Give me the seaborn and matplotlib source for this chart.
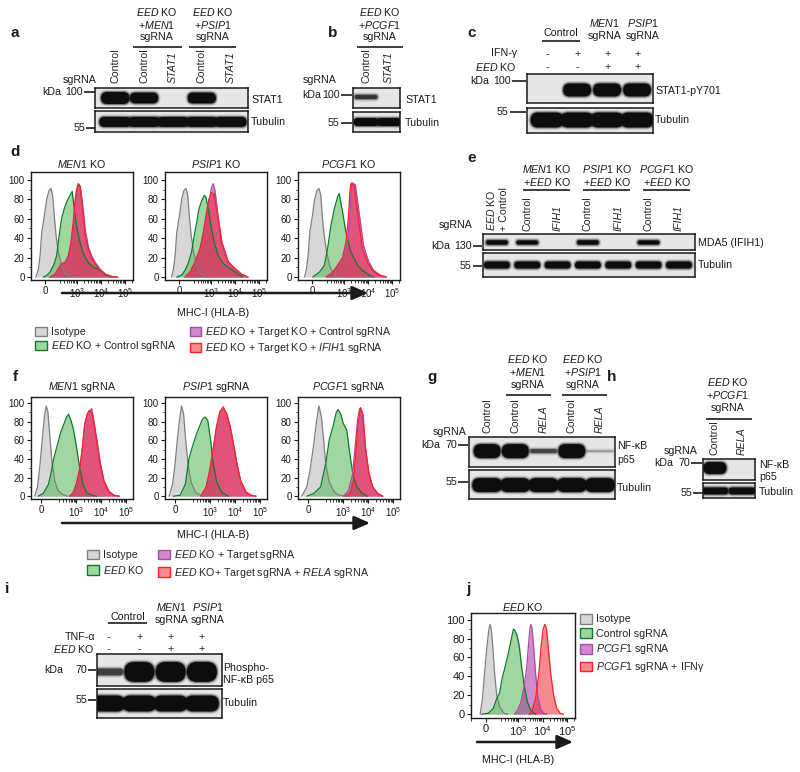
import matplotlib
matplotlib.use("Agg")
import matplotlib.pyplot as plt
import seaborn as sns
from matplotlib.patches import FancyBboxPatch, FancyArrowPatch, Patch
from matplotlib.lines import Line2D
from matplotlib.ticker import MultipleLocator
from matplotlib.colors import to_rgba

sns.set_theme(style="white")
plt.rcParams["font.family"] = ["Liberation Sans", "DejaVu Sans"]
plt.rcParams.update({
    "mathtext.fontset": "custom",
    "mathtext.rm": "Liberation Sans",
    "mathtext.it": "Liberation Sans:italic",
    "mathtext.bf": "Liberation Sans:bold",
    "mathtext.sf": "Liberation Sans",
    "font.size": 7.7,
})

# ------------------------------------------------------------------ data
# western blots: relative band signal per lane
a_lanes = ["Control", "Control", "STAT1", "Control", "STAT1"]
a_stat1 = [1.0, 0.9, 0.0, 0.9, 0.0]
a_tubulin = [1.0, 1.0, 1.0, 1.0, 1.0]

b_lanes = ["Control", "STAT1"]
b_stat1 = [0.4, 0.0]
b_tubulin = [1.0, 1.0]

c_ifng = ["-", "+", "+", "+"]
c_eed = ["-", "-", "+", "+"]
c_pstat1 = [0.0, 1.0, 1.0, 1.0]
c_tubulin = [1.0, 1.0, 1.0, 1.0]

e_lanes = ["$\\mathit{EED}$ KO\n+ Control", "Control", "IFIH1", "Control", "IFIH1", "Control", "IFIH1"]
e_mda5 = [1.0, 0.95, 0.0, 1.0, 0.0, 0.95, 0.0]
e_tubulin = [1.0, 1.0, 1.0, 1.0, 1.0, 1.0, 1.0]

g_lanes = ["Control", "Control", "RELA", "Control", "RELA"]
g_p65 = [1.0, 1.0, 0.3, 1.0, 0.06]
g_tubulin = [1.0, 1.0, 1.0, 1.0, 1.0]

h_lanes = ["Control", "RELA"]
h_p65 = [1.0, 0.0]
h_tubulin = [1.0, 1.0]

i_tnfa = ["-", "+", "+", "+"]
i_eed = ["-", "-", "+", "+"]
i_pp65 = [0.35, 1.0, 1.0, 1.0]
i_tubulin = [1.0, 1.0, 1.0, 1.0]

# flow histograms: (MHC-I fluorescence, % of max)
D_MEN1_ISO = ([-117, -88, -66, -44, -9, 22, 53, 79, 101, 118, 139, 173, 237, 325, 490, 776],
              [0, 8, 22, 46, 63, 80, 89, 91, 84, 63, 43, 26, 12, 4, 0.5, 0])
D_MEN1_GREEN = ([-22, 22, 66, 110, 148, 174, 204, 236, 302, 380, 478, 646, 794, 977, 1350, 1860, 2950, 4790, 7590, 10470, 16600, 26900],
                [0, 1.7, 5, 12, 22, 36, 49, 60, 70, 77, 82, 88, 70, 53, 36, 24, 15, 10, 8, 6, 2, 0])
D_MEN1_MAG = ([70, 135, 185, 250, 340, 470, 600, 740, 870, 1020, 1200, 1400, 1650, 1950, 2250, 3100, 4300, 5800, 9400, 15300, 28000, 50000],
              [0, 2, 8, 13, 14, 20, 33, 52, 73, 88, 95, 93, 80, 64, 48, 30, 21, 15, 8, 3, 0.7, 0])
D_MEN1_RED = ([66, 126, 174, 236, 324, 447, 575, 708, 832, 977, 1150, 1350, 1580, 1860, 2140, 2950, 4070, 5500, 8900, 14500, 26900, 49000],
              [0, 3, 9, 14, 15, 22, 36, 56, 77, 90, 96, 94, 80, 63, 46, 29, 20, 14, 7, 3, 0.7, 0])

D_PSIP1_ISO = ([-100, -75, -52, -30, 5, 35, 65, 93, 112, 130, 155, 195, 260, 360, 520, 800],
               [0, 8, 22, 46, 63, 80, 89, 91, 84, 63, 43, 26, 12, 4, 0.5, 0])
D_PSIP1_GREEN = ([-31, 35, 79, 117, 162, 209, 263, 324, 417, 537, 631, 794, 1020, 1380, 2040, 3240, 6170, 11500, 21400],
                 [0, 2, 7, 14, 26, 43, 56, 70, 78, 84, 82, 70, 53, 36, 22, 14, 9, 4, 0])
D_PSIP1_MAG = ([79, 138, 219, 355, 490, 676, 870, 1070, 1260, 1500, 1900, 2900, 5250, 9770, 18600, 34700],
               [0, 4, 14, 27, 44, 63, 78, 92, 96, 89, 67, 36, 16, 9, 3, 0])
D_PSIP1_RED = ([79, 138, 219, 355, 490, 676, 832, 1070, 1380, 1740, 2750, 5250, 9770, 18600, 34700],
               [0, 5, 15, 29, 46, 67, 80, 87, 85, 70, 36, 15, 9, 3, 0])

D_PCGF1_ISO = ([-100, -75, -52, -30, 5, 35, 65, 93, 112, 130, 155, 195, 260, 360, 520, 800],
               [0, 8, 22, 46, 63, 80, 89, 91, 84, 63, 43, 26, 12, 4, 0.5, 0])
D_PCGF1_GREEN = ([9, 97, 158, 214, 295, 407, 550, 646, 890, 1230, 1950, 3720, 5900, 11200, 17800],
                 [0, 5, 12, 29, 53, 70, 82, 86, 67, 46, 26, 12, 7, 2, 0])
D_PCGF1_MAG = ([208, 390, 616, 1000, 1380, 1770, 1990, 2180, 3010, 3540, 4900, 6600, 10700, 16900, 32300, 60000],
               [0, 5, 12, 20, 34, 60, 86, 97, 95, 82, 56, 32, 16, 7, 2, 0])
D_PCGF1_RED = ([186, 347, 550, 890, 1230, 1580, 1780, 1950, 2690, 3160, 4370, 5900, 9550, 15100, 28800, 53700],
               [0, 5, 12, 20, 36, 63, 87, 96, 94, 80, 53, 29, 15, 7, 2, 0])

F_MEN1_ISO = ([-60, -33, -10, 13, 33, 50, 66, 83, 105, 138, 186, 275, 447],
              [0, 10, 33, 61, 85, 97, 91, 68, 37, 16, 6, 2, 0])
F_MEN1_GREEN = ([-26, 23, 73, 100, 123, 170, 234, 324, 407, 490, 617, 776, 1000, 1380, 1860, 2570, 4170, 6760],
                [0, 3, 13, 27, 40, 54, 68, 78, 85, 88, 81, 71, 54, 30, 13, 4, 1, 0])
F_MEN1_MAG = ([525, 724, 1000, 1380, 1780, 2190, 2750, 3310, 4170, 4900, 6760, 9330, 12900, 20900, 33100, 53700],
              [0, 3, 12, 28, 52, 76, 87, 91, 94, 84, 60, 35, 17, 5, 1, 0])
F_MEN1_RED = ([525, 724, 1000, 1380, 1780, 2190, 2750, 3310, 4170, 4900, 6760, 9330, 12900, 20900, 33100, 53700],
              [0, 3, 13, 30, 54, 78, 88, 92, 90, 81, 57, 33, 16, 4, 1, 0])

F_PSIP1_ISO = ([-56, -23, 0, 23, 43, 63, 83, 102, 129, 170, 257, 417, 676],
               [0, 13, 33, 61, 81, 97, 88, 61, 33, 15, 4, 1, 0])
F_PSIP1_GREEN = ([-16, 50, 100, 138, 186, 257, 355, 490, 617, 794, 1020, 1290, 1780, 2880, 5370],
                 [0, 1, 13, 40, 52, 64, 74, 83, 85, 81, 61, 37, 16, 4, 0])
F_PSIP1_MAG = ([417, 676, 933, 1290, 1780, 2450, 3310, 4570, 6310, 8710, 12000, 16600, 26900, 43600, 69200],
               [0, 9, 25, 48, 73, 90, 94, 89, 75, 55, 34, 17, 5, 1, 0])
F_PSIP1_RED = ([417, 676, 933, 1290, 1780, 2450, 3310, 4570, 6310, 8710, 12000, 16600, 26900, 43600, 69200],
               [0, 10, 27, 50, 75, 91, 96, 88, 74, 54, 33, 16, 4, 1, 0])

F_PCGF1_ISO = ([-60, -10, 23, 57, 83, 105, 132, 162, 200, 275, 447, 724, 1170],
               [0, 10, 30, 57, 81, 97, 85, 61, 33, 15, 4, 1, 0])
F_PCGF1_GREEN = ([-10, 57, 123, 200, 275, 380, 525, 617, 794, 1000, 1380, 1860, 2570, 3550, 5750, 9330],
                 [0, 3, 10, 36, 61, 74, 90, 93, 88, 78, 71, 44, 20, 10, 3, 0])
F_PCGF1_MAG = ([1000, 1620, 2340, 3020, 3720, 4470, 5750, 7410, 10200, 15100, 24500, 38900],
               [0, 6, 23, 54, 81, 94, 91, 57, 27, 10, 2, 0])
F_PCGF1_RED = ([1170, 1860, 2570, 3240, 3890, 4900, 6170, 7940, 11000, 15100, 24500, 38900],
               [0, 3, 16, 50, 78, 95, 88, 50, 23, 10, 3, 0])

J_ISO = ([-77, -47, -21, 9, 39, 56, 73, 95, 112, 135, 178, 263, 380],
         [0, 16, 41, 69, 90, 95, 88, 65, 41, 20, 8, 1, 0])
J_CONTROL = ([-55, 30, 95, 132, 178, 219, 302, 407, 525, 646, 759, 912, 1120, 1380, 1780, 2400, 3310, 5250],
             [0, 1, 6, 16, 23, 37, 51, 65, 79, 90, 88, 83, 72, 51, 30, 13, 4, 0])
J_PCGF1 = ([708, 955, 1320, 1780, 2290, 2630, 3020, 3310, 3720, 4370, 5130, 6310, 8130, 11200, 15100],
           [0, 4, 13, 30, 51, 72, 90, 95, 91, 69, 44, 20, 6, 1, 0])
J_PCGF1_IFNG = ([2820, 3720, 5130, 6920, 8510, 10500, 12300, 14500, 17800, 21900, 28200, 38000, 52500, 70800],
                [0, 4, 16, 41, 69, 90, 95, 90, 65, 41, 20, 6, 1, 0])

XTICKS = [0, 1e3, 1e4, 1e5]
XTICKLABELS = ["0", "$10^3$", "$10^4$", "$10^5$"]
YTICKS = [0, 20, 40, 60, 80, 100]

# ------------------------------------------------------------------ helpers
W, H = 800, 772
fig = plt.figure(figsize=(W / 100, H / 100), dpi=100)
fig.patch.set_facecolor("white")
FS = 7.7
ITALIC = {"STAT1", "IFIH1", "RELA"}


def fx(x):
    return x / W


def fy(y):
    return 1 - y / H


def rect(x0, y0, x1, y1):
    return [x0 / W, 1 - y1 / H, (x1 - x0) / W, (y1 - y0) / H]


def it(s):
    return "$\\mathit{" + s + "}$"


def T(x, y, s, ha="center", va="center", size=FS, **kw):
    return fig.text(fx(x), fy(y), s, ha=ha, va=va, fontsize=size, color="k", **kw)


def L(x0, x1, y, lw=1.2):
    fig.add_artist(Line2D([fx(x0), fx(x1)], [fy(y), fy(y)], transform=fig.transFigure,
                          color="k", lw=lw, solid_capstyle="butt"))


def marker(kda_right, num_right, y, num, t0, t1, kda=True):
    if kda:
        T(kda_right, y, "kDa", ha="right")
    T(num_right, y, num, ha="right")
    L(t0, t1, y)


def arrow(x0, x1, y):
    fig.add_artist(FancyArrowPatch((fx(x0), fy(y)), (fx(x1), fy(y)), transform=fig.transFigure,
                                   arrowstyle="-|>,head_length=0.8,head_width=0.35",
                                   mutation_scale=12, lw=1.8, color="k", shrinkA=0, shrinkB=0))


def blot_strip(box, xlim, signal, band_h, yc=0.5, band_w=0.95):
    x0, y0, x1, y1 = box
    ax = fig.add_axes(rect(*box))
    ax.set_xlim(*xlim)
    ax.set_ylim(0, 1)
    ax.set_facecolor("#e6e6e6")
    ax.set_xticks([])
    ax.set_yticks([])
    for s in ax.spines.values():
        s.set_visible(True)
        s.set_color("k")
        s.set_linewidth(1.1)
    xper = (xlim[1] - xlim[0]) / (x1 - x0)
    yper = 1.0 / (y1 - y0)
    for i, v in enumerate(signal):
        if v <= 0:
            continue
        h = band_h * v
        for grow, a in [(2.2, 0.18), (1.0, 0.4), (0.0, 1.0)]:
            bw = band_w / xper + 2 * grow
            hh = h + 2 * grow
            r = min(hh / 2, bw / 2)
            ax.add_patch(FancyBboxPatch((i - bw * xper / 2, yc - hh * yper / 2), bw * xper, hh * yper,
                                        boxstyle=f"round,pad=0,rounding_size={r * xper}",
                                        mutation_aspect=yper / xper, fc="#0d0d0d", ec="none",
                                        alpha=a * min(1.0, 0.3 + v)))
    return ax


def lane_labels(ax, labels, gap):
    for i, lab in enumerate(labels):
        ax.annotate(lab, xy=(i, 1), xycoords=("data", "axes fraction"),
                    xytext=(0, gap * 0.72), textcoords="offset points", rotation=90,
                    ha="center", va="bottom", ma="left", fontsize=FS,
                    fontstyle="italic" if lab in ITALIC else "normal", annotation_clip=False)


def sign_row(ax, signs, gap):
    for i, s in enumerate(signs):
        ax.annotate(s, xy=(i, 1), xycoords=("data", "axes fraction"),
                    xytext=(0, gap * 0.72), textcoords="offset points",
                    ha="center", va="center", fontsize=FS, annotation_clip=False)


STY = {
    "iso": dict(fc="#b6b6b6", ec="#808080"),
    "green": dict(fc="#52b652", ec="#0a7d2a"),
    "mag": dict(fc="#aa28a0", ec="#a64ca6"),
    "red": dict(fc="#f02838", ec="#ff2020"),
}
ALPHA = 0.55
ORDER = ["iso", "green", "mag", "red"]


def flow(box, curves, xlim, linscale, ylim, labelsize=7):
    ax = fig.add_axes(rect(*box))
    ax.set_xscale("symlog", linthresh=100, linscale=linscale, subs=list(range(2, 10)))
    for key, (xs, ys) in zip(ORDER, curves):
        st = STY[key]
        ax.fill_between(xs, ys, 0, facecolor=st["fc"], alpha=ALPHA, linewidth=0)
        sns.lineplot(x=xs, y=ys, ax=ax, color=st["ec"], linewidth=0.9, sort=False,
                     estimator=None, legend=False)
    ax.set_xlim(*xlim)
    ax.set_ylim(*ylim)
    ax.set_xticks(XTICKS, labels=XTICKLABELS)
    ax.set_yticks(YTICKS)
    ax.yaxis.set_minor_locator(MultipleLocator(10))
    ax.tick_params(which="major", direction="out", length=3, width=0.8, labelsize=labelsize,
                   pad=1.5, bottom=True, left=True, top=False, right=False, colors="k")
    ax.tick_params(which="minor", direction="out", length=1.8, width=0.6, bottom=True, left=True,
                   top=False, right=False, colors="k")
    for s in ax.spines.values():
        s.set_visible(True)
        s.set_color("k")
        s.set_linewidth(1.0)
    ax.set_xlabel("")
    ax.set_ylabel("")
    ax.grid(False)
    return ax


def handles():
    return [Patch(facecolor=to_rgba(STY[k]["fc"], ALPHA), edgecolor=STY[k]["ec"], lw=1.0) for k in ORDER]


# ------------------------------------------------------------------ panel letters
for lab, (x, y) in {"a": (15, 33), "b": (333, 33), "c": (472, 33), "d": (15, 152),
                    "e": (472, 158), "f": (15, 377), "g": (432, 377), "h": (612, 377),
                    "i": (7, 589), "j": (468, 589)}.items():
    T(x, y, lab, size=11, weight="bold")

# ------------------------------------------------------------------ panel a
a_xlim = (-0.7, 4.6)
ax = blot_strip((95, 88, 248, 108), a_xlim, a_stat1, band_h=12, yc=0.5, band_w=0.98)
blot_strip((95, 111, 248, 132), a_xlim, a_tubulin, band_h=10, yc=0.48, band_w=1.1)
lane_labels(ax, a_lanes, 5)
for cx, gene, (l0, l1) in [(157, "MEN1", (133, 182)), (213, "PSIP1", (189, 236))]:
    T(cx, 12, it("EED") + " KO")
    T(cx, 25, "+" + it(gene))
    T(cx, 37, "sgRNA")
    L(l0, l1, 47)
T(80, 80, "sgRNA")
marker(61, 83, 92, "100", 84, 95)
marker(0, 85, 128, "55", 86, 95, kda=False)
T(251, 100, "STAT1", ha="left"); T(251, 122, "Tubulin", ha="left")

# ------------------------------------------------------------------ panel b
b_xlim = (-0.57, 1.48)
ax = blot_strip((353, 88, 400, 108), b_xlim, b_stat1, band_h=11, yc=0.55, band_w=1.0)
blot_strip((353, 112, 400, 132), b_xlim, b_tubulin, band_h=8, yc=0.5, band_w=1.08)
lane_labels(ax, b_lanes, 5)
T(380, 12, it("EED") + " KO"); T(380, 25, "+" + it("PCGF1")); T(380, 37, "sgRNA"); L(357, 403, 47)
T(320, 80, "sgRNA")
marker(321, 340, 95, "100", 341, 352)
marker(0, 339, 123, "55", 341, 352, kda=False)
T(405, 100, "STAT1", ha="left"); T(405, 123, "Tubulin", ha="left")

# ------------------------------------------------------------------ panel c
c_xlim = (-0.67, 3.53)
ax = blot_strip((527, 74, 653, 103), c_xlim, c_pstat1, band_h=13, yc=0.45, band_w=0.93)
blot_strip((527, 108, 653, 133), c_xlim, c_tubulin, band_h=15, yc=0.52, band_w=1.1)
sign_row(ax, c_ifng, 20)
sign_row(ax, c_eed, 7)
T(561, 33, "Control"); L(542, 580, 41)
T(605, 23, it("MEN1")); T(605, 36, "sgRNA")
T(643, 23, it("PSIP1")); T(643, 36, "sgRNA")
T(517, 53, "IFN-γ", ha="right"); T(517, 67, it("EED") + " KO", ha="right")
marker(489, 511, 81, "100", 512, 526)
marker(0, 508, 112, "55", 510, 526, kda=False)
T(655, 91, "STAT1-pY701", ha="left"); T(655, 120, "Tubulin", ha="left")

# ------------------------------------------------------------------ panel d
D_XLIM = (-186, 2.1e5)
D_YLIM = (-3, 108)
d_boxes = [(31, 172, 133, 280), (165, 172, 267, 280), (298, 172, 400, 280)]
d_sets = [[D_MEN1_ISO, D_MEN1_GREEN, D_MEN1_MAG, D_MEN1_RED],
          [D_PSIP1_ISO, D_PSIP1_GREEN, D_PSIP1_MAG, D_PSIP1_RED],
          [D_PCGF1_ISO, D_PCGF1_GREEN, D_PCGF1_MAG, D_PCGF1_RED]]
for box, curves, gene in zip(d_boxes, d_sets, ["MEN1", "PSIP1", "PCGF1"]):
    flow(box, curves, D_XLIM, 0.279, D_YLIM)
    T((box[0] + box[2]) / 2, 164, it(gene) + " KO")
arrow(62, 368, 293)
T(213, 313, "MHC-I (HLA-B)")
fig.legend(handles(), ["Isotype", it("EED") + " KO + Control sgRNA",
                       it("EED") + " KO + Target KO + Control sgRNA",
                       it("EED") + " KO + Target KO + " + it("IFIH1") + " sgRNA"],
           ncol=2, loc="upper left", bbox_to_anchor=(fx(35), fy(325)), frameon=False, fontsize=FS,
           handlelength=1.1, handleheight=1.0, handletextpad=0.35, labelspacing=0.2,
           columnspacing=1.3, borderpad=0, borderaxespad=0)

# ------------------------------------------------------------------ panel e
e_xlim = (-0.46, 6.53)
ax = blot_strip((483, 234, 695, 250), e_xlim, e_mda5, band_h=4.5, yc=0.47, band_w=0.72)
blot_strip((483, 253, 695, 277), e_xlim, e_tubulin, band_h=7, yc=0.5, band_w=0.85)
lane_labels(ax, e_lanes, 3)
for cx, gene, (l0, l1) in [(547, "MEN1", (523, 570)), (607, "PSIP1", (583, 630)), (667, "PCGF1", (643, 690))]:
    T(cx, 169, it(gene) + " KO")
    T(cx, 182, "+" + it("EED") + " KO")
    L(l0, l1, 190)
T(456, 225, "sgRNA")
marker(450, 472, 246, "130", 473, 482)
marker(0, 471, 266, "55", 473, 482, kda=False)
T(698, 243, "MDA5 (IFIH1)", ha="left"); T(698, 265, "Tubulin", ha="left")

# ------------------------------------------------------------------ panel f
F_XLIM = (-95, 1.9e5)
F_YLIM = (-3, 106.5)
f_boxes = [(31, 397, 133, 499), (165, 397, 267, 499), (298, 397, 400, 499)]
f_sets = [[F_MEN1_ISO, F_MEN1_GREEN, F_MEN1_MAG, F_MEN1_RED],
          [F_PSIP1_ISO, F_PSIP1_GREEN, F_PSIP1_MAG, F_PSIP1_RED],
          [F_PCGF1_ISO, F_PCGF1_GREEN, F_PCGF1_MAG, F_PCGF1_RED]]
for box, curves, gene in zip(f_boxes, f_sets, ["MEN1", "PSIP1", "PCGF1"]):
    flow(box, curves, F_XLIM, 0.378, F_YLIM)
    T((box[0] + box[2]) / 2, 387, it(gene) + " sgRNA")
arrow(62, 370, 523)
T(213, 535, "MHC-I (HLA-B)")
fig.legend(handles(), ["Isotype", it("EED") + " KO",
                       it("EED") + " KO + Target sgRNA",
                       it("EED") + " KO+ Target sgRNA + " + it("RELA") + " sgRNA"],
           ncol=2, loc="upper left", bbox_to_anchor=(fx(87), fy(548)), frameon=False, fontsize=FS,
           handlelength=1.1, handleheight=1.0, handletextpad=0.35, labelspacing=0.35,
           columnspacing=1.3, borderpad=0, borderaxespad=0)

# ------------------------------------------------------------------ panel g
g_xlim = (-0.64, 4.53)
ax = blot_strip((469, 437, 615, 467), g_xlim, g_p65, band_h=14, yc=0.53, band_w=0.95)
blot_strip((469, 470, 615, 499), g_xlim, g_tubulin, band_h=14, yc=0.48, band_w=1.05)
lane_labels(ax, g_lanes, 4)
for cx, gene, (l0, l1) in [(528, "MEN1", (506, 551)), (583, "PSIP1", (562, 607))]:
    T(cx, 359, it("EED") + " KO")
    T(cx, 372, "+" + it(gene))
    T(cx, 385, "sgRNA")
    L(l0, l1, 395)
T(450, 432, "sgRNA")
marker(440, 457, 445, "70", 458, 468)
marker(0, 457, 482, "55", 458, 468, kda=False)
T(617, 446, "NF-κB", ha="left"); T(617, 460, "p65", ha="left"); T(617, 488, "Tubulin", ha="left")

# ------------------------------------------------------------------ panel h
h_xlim = (-0.44, 1.48)
ax = blot_strip((703, 459, 755, 480), h_xlim, h_p65, band_h=12, yc=0.57, band_w=0.85)
blot_strip((703, 483, 755, 498), h_xlim, h_tubulin, band_h=7, yc=0.47, band_w=0.98)
lane_labels(ax, h_lanes, 4)
T(728, 382, it("EED") + " KO"); T(728, 395, "+" + it("PCGF1")); T(728, 408, "sgRNA"); L(706, 752, 419)
T(681, 451, "sgRNA")
marker(673, 690, 463, "70", 691, 702)
marker(0, 692, 493, "55", 693, 703, kda=False)
T(759, 465, "NF-κB", ha="left"); T(759, 477, "p65", ha="left"); T(759, 492, "Tubulin", ha="left")

# ------------------------------------------------------------------ panel i
i_xlim = (-0.35, 3.64)
ax = blot_strip((97, 654, 222, 686), i_xlim, i_pp65, band_h=20, yc=0.44, band_w=0.96)
blot_strip((97, 689, 222, 718), i_xlim, i_tubulin, band_h=16, yc=0.5, band_w=1.08)
sign_row(ax, i_tnfa, 17)
sign_row(ax, i_eed, 5)
T(128, 617, "Control"); L(108, 147, 623)
T(172, 607, it("MEN1")); T(172, 620, "sgRNA")
T(208, 607, it("PSIP1")); T(208, 620, "sgRNA")
T(95, 637, "TNF-α", ha="right"); T(95, 649, it("EED") + " KO", ha="right")
marker(63, 87, 670, "70", 88, 96)
marker(0, 87, 700, "55", 88, 96, kda=False)
T(223, 668, "Phospho-", ha="left"); T(223, 680, "NF-κB p65", ha="left"); T(223, 703, "Tubulin", ha="left")

# ------------------------------------------------------------------ panel j
flow((471, 613, 575, 718), [J_ISO, J_CONTROL, J_PCGF1, J_PCGF1_IFNG], (-200, 2.1e5), 0.279, (-4, 107),
     labelsize=8)
T(523, 607, it("EED") + " KO")
arrow(477, 573, 742)
T(518, 760, "MHC-I (HLA-B)")
fig.legend(handles(), ["Isotype", "Control sgRNA", it("PCGF1") + " sgRNA",
                       it("PCGF1") + " sgRNA + IFNγ"],
           ncol=1, loc="upper left", bbox_to_anchor=(fx(580), fy(614)), frameon=False, fontsize=FS,
           handlelength=1.1, handleheight=1.0, handletextpad=0.35, labelspacing=0.35,
           borderpad=0, borderaxespad=0)

fig.savefig("out.png", dpi=100)
